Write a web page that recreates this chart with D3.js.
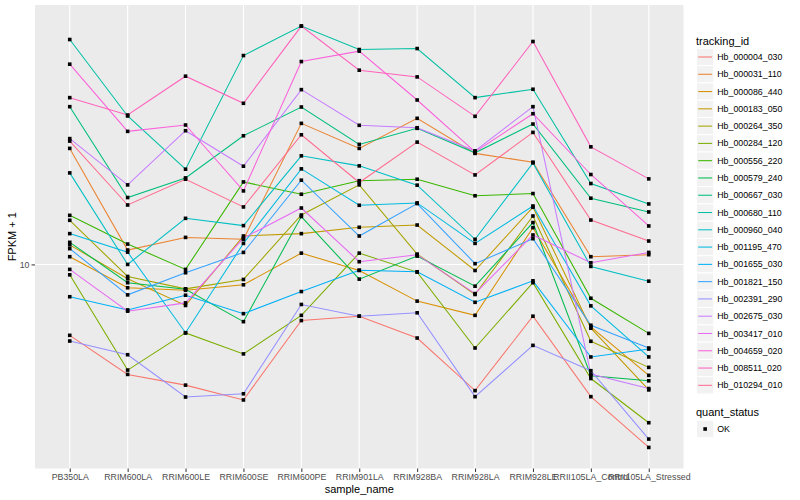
<!DOCTYPE html>
<html><head><meta charset="utf-8">
<script src="https://cdn.jsdelivr.net/npm/d3@7"></script>
<style>body{margin:0;background:#fff} text{font-family:"Liberation Sans",Arial,Helvetica,sans-serif}</style>
</head><body><svg id="c" width="800" height="500"></svg>
<script>
const categories = ["PB350LA","RRIM600LA","RRIM600LE","RRIM600SE","RRIM600PE","RRIM901LA","RRIM928BA","RRIM928LA","RRIM928LE","RRII105LA_Control","RRII105LA_Stressed"];
const trackingIds = ["Hb_000004_030","Hb_000031_110","Hb_000086_440","Hb_000183_050","Hb_000264_350","Hb_000284_120","Hb_000556_220","Hb_000579_240","Hb_000667_030","Hb_000680_110","Hb_000960_040","Hb_001195_470","Hb_001655_030","Hb_001821_150","Hb_002391_290","Hb_002675_030","Hb_003417_010","Hb_004659_020","Hb_008511_020","Hb_010294_010"];

// FPKM + 1 per sample (order of categories)
const hb_000004_030 = [6.28, 4.86, 4.53, 4.11, 6.92, 7.12, 6.17, 4.37, 7.12, 4.20, 3.01];
const hb_000031_110 = [21.41, 10.99, 11.94, 11.79, 25.23, 21.41, 26.08, 20.72, 19.56, 10.52, 10.66];
const hb_000086_440 = [10.52, 8.58, 8.44, 8.75, 10.77, 9.61, 7.86, 7.16, 12.73, 6.64, 4.83];
const hb_000183_050 = [11.37, 9.10, 7.64, 12.05, 12.24, 12.76, 12.95, 9.61, 14.55, 6.58, 4.39];
const hb_000264_350 = [13.36, 9.24, 8.52, 9.06, 13.83, 16.85, 10.70, 8.21, 13.74, 6.04, 5.09];
const hb_000284_120 = [9.34, 5.00, 6.38, 5.56, 7.16, 10.77, 9.51, 5.78, 8.87, 4.73, 3.54];
const hb_000556_220 = [13.80, 11.43, 9.68, 17.18, 15.85, 17.32, 17.49, 15.69, 15.92, 8.01, 6.36];
const hb_000579_240 = [11.56, 8.87, 8.50, 6.87, 13.69, 9.08, 10.56, 8.67, 13.16, 4.82, 4.66];
const hb_000667_030 = [28.15, 15.51, 17.64, 23.26, 28.09, 21.98, 24.42, 20.80, 25.12, 15.44, 14.11];
const hb_000680_110 = [43.74, 26.48, 18.68, 39.37, 47.77, 40.95, 41.22, 29.87, 31.56, 17.00, 14.87];
const hb_000960_040 = [18.23, 10.00, 13.53, 12.90, 20.39, 19.09, 16.82, 11.79, 19.47, 9.87, 8.96];
const hb_001195_470 = [12.24, 10.84, 6.39, 11.48, 18.72, 14.74, 14.97, 11.48, 14.67, 7.62, 5.45];
const hb_001655_030 = [8.09, 7.42, 8.17, 7.24, 8.37, 9.63, 9.53, 7.80, 8.98, 5.45, 5.74];
const hb_001821_150 = [11.09, 8.19, 9.47, 10.82, 17.38, 12.05, 14.91, 10.05, 11.84, 6.71, 5.78];
const hb_002391_290 = [6.05, 5.53, 4.19, 4.28, 7.69, 7.12, 7.28, 4.20, 5.88, 4.98, 3.18];
const hb_002675_030 = [22.83, 16.85, 24.04, 19.05, 31.48, 24.91, 24.52, 21.07, 28.15, 4.87, 4.43];
const hb_003417_010 = [9.68, 7.36, 7.77, 11.89, 14.48, 10.18, 10.66, 8.26, 12.13, 10.11, 10.82];
const hb_004659_020 = [37.20, 23.94, 24.96, 16.20, 37.85, 40.52, 29.41, 20.93, 26.88, 18.04, 12.87];
const hb_008511_020 = [29.87, 26.65, 34.38, 28.78, 47.77, 35.76, 34.22, 26.42, 43.17, 21.63, 17.53];
const hb_010294_010 = [22.46, 14.77, 17.49, 14.58, 23.41, 17.12, 22.31, 17.99, 23.78, 13.38, 11.66];

const seriesValues = [hb_000004_030, hb_000031_110, hb_000086_440, hb_000183_050, hb_000264_350, hb_000284_120, hb_000556_220, hb_000579_240, hb_000667_030, hb_000680_110, hb_000960_040, hb_001195_470, hb_001655_030, hb_001821_150, hb_002391_290, hb_002675_030, hb_003417_010, hb_004659_020, hb_008511_020, hb_010294_010];
const palette = ["#F8766D","#EA8331","#D89000","#C09B00","#A3A500","#7CAE00","#39B600","#00BB4E","#00BF7D","#00C1A3","#00BFC4","#00BAE0","#00B0F6","#35A2FF","#9590FF","#C77CFF","#E76BF3","#FA62DB","#FF62BC","#FF6C91"];
const yTickValues = [10];
const statusLabels = ["OK"];

const series = trackingIds.map((id, i) => ({id, color: palette[i], values: seriesValues[i].map((v, j) => ({cat: categories[j], v}))}));

const svg = d3.select("#c");
svg.append("rect").attr("width", 800).attr("height", 500).attr("fill", "#fff");
const P = {l: 35, r: 683.5, t: 5, b: 468.5};

const x = d3.scalePoint().domain(categories).range([P.l, P.r]).padding(0.6);
const logs = seriesValues.flat().map(Math.log10);
const lo = d3.min(logs), hi = d3.max(logs), pad = (hi - lo) * 0.05;
const y = d3.scaleLog().domain([Math.pow(10, lo - pad), Math.pow(10, hi + pad)]).range([P.b, P.t]);

svg.append("rect").attr("x", P.l).attr("y", P.t).attr("width", P.r - P.l).attr("height", P.b - P.t).attr("fill", "#EBEBEB");

const grid = svg.append("g").attr("stroke", "#fff").attr("stroke-width", 1.1);
grid.selectAll("line.v").data(categories).join("line")
  .attr("x1", d => x(d)).attr("x2", d => x(d)).attr("y1", P.t).attr("y2", P.b);
grid.selectAll("line.h").data(yTickValues).join("line")
  .attr("x1", P.l).attr("x2", P.r).attr("y1", d => y(d)).attr("y2", d => y(d));

const line = d3.line().x(d => x(d.cat)).y(d => y(d.v));
svg.append("g").selectAll("path").data(series).join("path")
  .attr("d", d => line(d.values)).attr("fill", "none").attr("stroke", d => d.color).attr("stroke-width", 1.05);

const PS = 3.6;
svg.append("g").selectAll("rect").data(series.flatMap(s => s.values)).join("rect")
  .attr("x", d => x(d.cat) - PS / 2).attr("y", d => y(d.v) - PS / 2).attr("width", PS).attr("height", PS).attr("fill", "#000");

const xAxis = svg.append("g").attr("transform", `translate(0,${P.b})`)
  .call(d3.axisBottom(x).tickSize(3.5).tickPadding(2));
const yAxis = svg.append("g").attr("transform", `translate(${P.l},0)`)
  .call(d3.axisLeft(y).tickValues(yTickValues).tickFormat(d3.format("d")).tickSize(3.5).tickPadding(2));
[xAxis, yAxis].forEach(a => {
  a.select(".domain").remove();
  a.selectAll(".tick line").attr("stroke", "#333").attr("stroke-width", 1);
  a.selectAll(".tick text").attr("fill", "#4D4D4D").style("font-size", "8.8px").style("font-family", '"Liberation Sans",Arial,sans-serif');
});

svg.append("text").attr("x", (P.l + P.r) / 2).attr("y", 493).attr("text-anchor", "middle")
  .style("font-size", "11px").attr("fill", "#000").text("sample_name");
svg.append("text").attr("transform", `translate(16,${(P.t + P.b) / 2}) rotate(-90)`).attr("text-anchor", "middle")
  .style("font-size", "11px").attr("fill", "#000").text("FPKM + 1");

// legend
const LX = 696.5, KS = 17.28;
svg.append("text").attr("x", 696).attr("y", 44.5).style("font-size", "11px").text("tracking_id");
const lg = svg.append("g").selectAll("g").data(series).join("g")
  .attr("transform", (d, i) => `translate(${LX},${57 + i * KS - KS / 2})`);
lg.append("rect").attr("width", KS).attr("height", KS).attr("fill", "#F2F2F2").attr("stroke", "#fff").attr("stroke-width", 1);
lg.append("line").attr("x1", 1.7).attr("x2", KS - 1.7).attr("y1", KS / 2).attr("y2", KS / 2).attr("stroke", d => d.color).attr("stroke-width", 1.05);
lg.append("text").attr("x", KS + 3.5).attr("y", KS / 2).attr("dy", "0.35em").style("font-size", "8.8px").text(d => d.id);

svg.append("text").attr("x", 696).attr("y", 416).style("font-size", "11px").text("quant_status");
const sg = svg.append("g").selectAll("g").data(statusLabels).join("g")
  .attr("transform", (d, i) => `translate(${LX},${429 + i * KS - KS / 2})`);
sg.append("rect").attr("width", KS).attr("height", KS).attr("fill", "#F2F2F2").attr("stroke", "#fff");
sg.append("rect").attr("x", KS / 2 - PS / 2).attr("y", KS / 2 - PS / 2).attr("width", PS).attr("height", PS).attr("fill", "#000");
sg.append("text").attr("x", KS + 3.5).attr("y", KS / 2).attr("dy", "0.35em").style("font-size", "8.8px").text(d => d);
</script></body></html>
